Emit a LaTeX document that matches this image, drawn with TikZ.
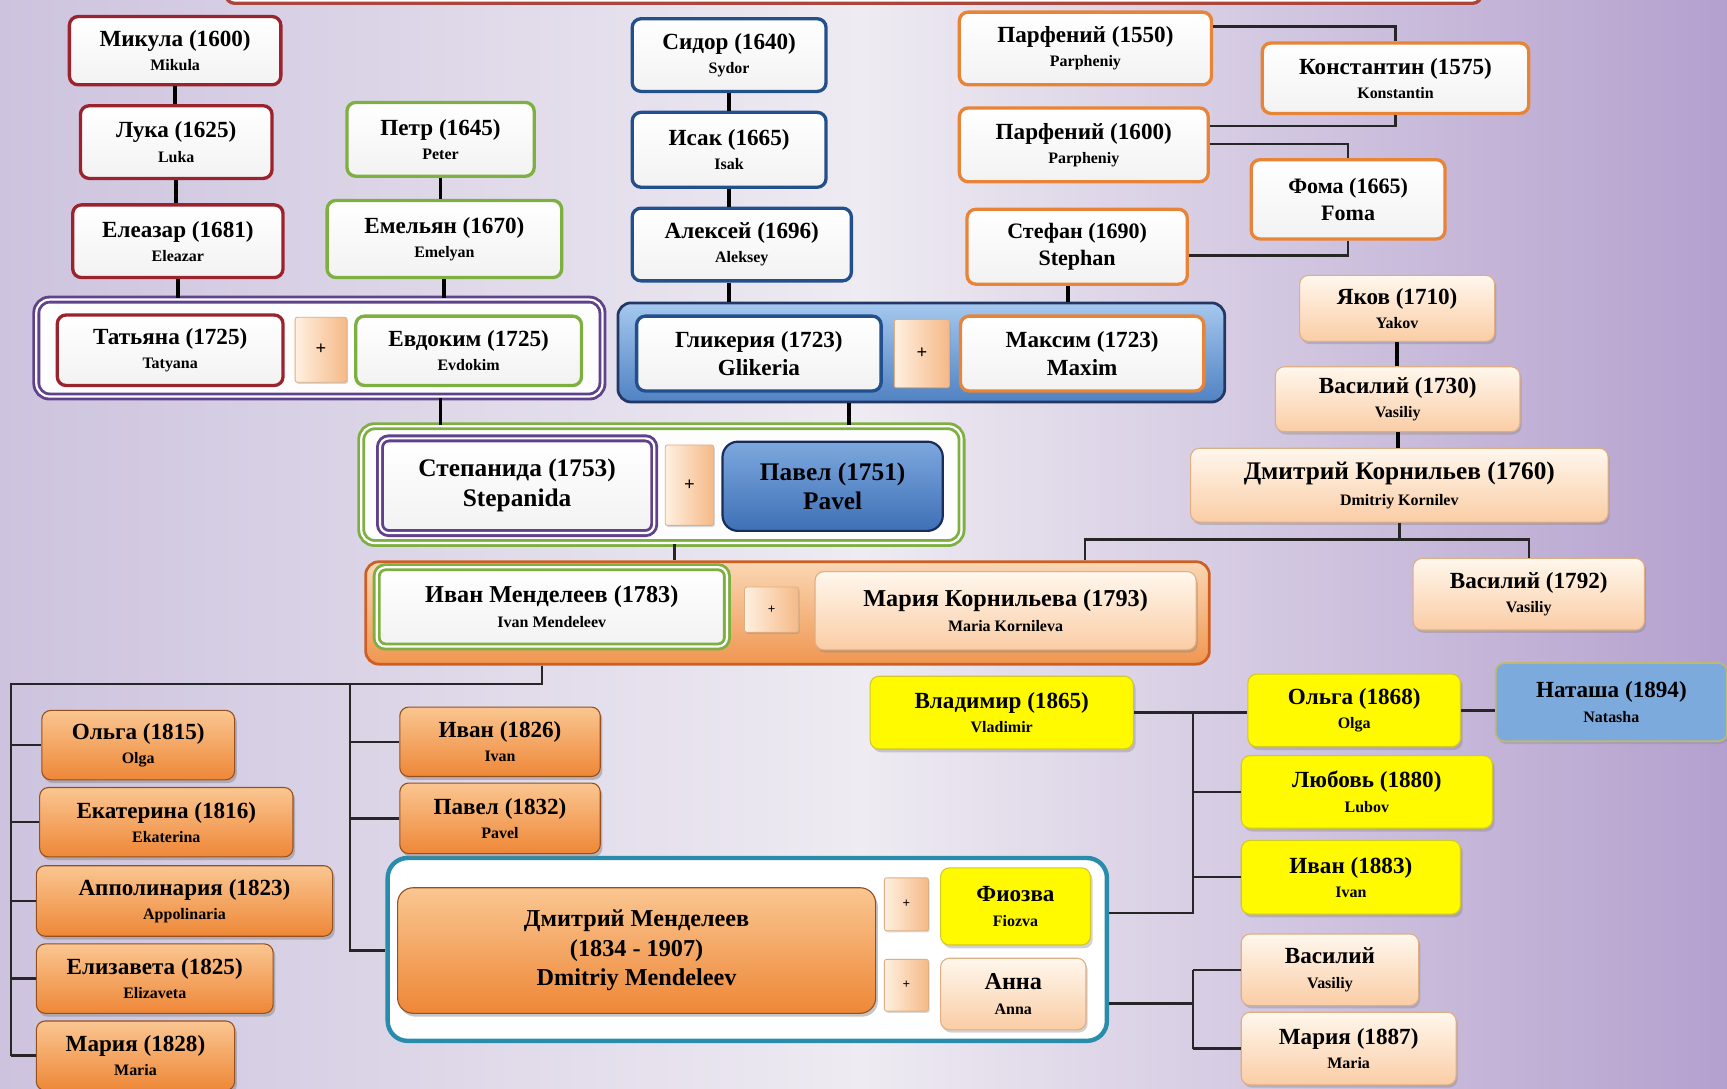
\documentclass[tikz,border=0pt]{standalone}
\usepackage{fontspec}
\setmainfont{Liberation Serif}
\usetikzlibrary{shadows,calc}
\definecolor{bgL}{RGB}{205,195,222}
\definecolor{bgM}{RGB}{238,235,242}
\definecolor{bgR}{RGB}{180,160,206}
\definecolor{cRed}{RGB}{155,35,45}
\definecolor{cGrn}{RGB}{125,175,65}
\definecolor{cBlu}{RGB}{35,80,140}
\definecolor{cOrg}{RGB}{232,132,55}
\definecolor{cPur}{RGB}{95,65,140}
\definecolor{cTeal}{RGB}{40,140,170}
\definecolor{pkT}{RGB}{255,247,237}
\definecolor{pkB}{RGB}{250,205,165}
\definecolor{pkD}{RGB}{222,175,132}
\definecolor{orT}{RGB}{250,198,145}
\definecolor{orB}{RGB}{238,135,55}
\definecolor{orD}{RGB}{150,80,30}
\definecolor{yel}{RGB}{255,250,0}
\definecolor{yelD}{RGB}{210,200,40}
\definecolor{pvT}{RGB}{125,168,222}
\definecolor{pvB}{RGB}{62,112,182}
\definecolor{pvD}{RGB}{25,45,90}
\definecolor{fbT}{RGB}{165,200,238}
\definecolor{fbB}{RGB}{80,130,195}
\definecolor{fbD}{RGB}{35,55,100}
\definecolor{fdT}{RGB}{250,215,180}
\definecolor{fdB}{RGB}{240,150,80}
\definecolor{fdD}{RGB}{205,95,35}
\definecolor{plL}{RGB}{255,240,224}
\definecolor{plR}{RGB}{245,185,135}
\definecolor{topB}{RGB}{170,70,60}
\definecolor{nataF}{RGB}{125,170,220}
\definecolor{nataD}{RGB}{190,185,110}
\newcommand\latn[1]{{\fontsize{14.5}{15}\selectfont #1}}
\tikzset{
  sz/.style 2 args={minimum width=#1pt, minimum height=#2pt},
  base/.style={rounded corners=8pt, align=center, inner sep=0pt, font=\fontsize{21}{22}\selectfont\bfseries},
  wfill/.style={top color=white, bottom color=black!5},
  redbox/.style={base, wfill, draw=cRed, line width=3pt},
  grnbox/.style={base, wfill, draw=cGrn, line width=3pt},
  blubox/.style={base, wfill, draw=cBlu, line width=3pt},
  orgbox/.style={base, wfill, draw=cOrg, line width=3pt},
  pkbox/.style={base, top color=pkT, bottom color=pkB, draw=pkD, line width=1pt,
     drop shadow={shadow xshift=1.5pt, shadow yshift=-2.5pt, opacity=0.35}},
  orch/.style={base, top color=orT, bottom color=orB, draw=orD, line width=1pt,
     drop shadow={shadow xshift=2pt, shadow yshift=-3pt, opacity=0.45}},
  yelbox/.style={base, fill=yel, draw=yelD, line width=1pt,
     drop shadow={shadow xshift=2pt, shadow yshift=-3pt, opacity=0.35}},
  plusbox/.style={base, rounded corners=2pt, left color=plL, right color=plR, draw=pkD, line width=0.8pt,
     font=\fontsize{17}{17}\selectfont\bfseries,
     drop shadow={shadow xshift=1pt, shadow yshift=-1.5pt, opacity=0.3}},
  famfill/.style={rounded corners=12pt, inner sep=0pt, fill=white!92!bgM},
  dbl/.style={double=white, double distance=2pt, line width=2.6pt},
  conn/.style={line width=3.5pt, black},
  thin/.style={line width=2.2pt, black!85},
}
\begin{document}
\begin{tikzpicture}[x=1pt,y=-1pt]
\useasboundingbox (0,0) rectangle (1568,988);
\begin{scope}
\clip (0,0) rectangle (1568,988);
\shade[left color=bgL, right color=bgR, middle color=bgM] (0,0) rectangle (1568,988);
\draw[line width=3pt, draw=topB, fill=white!94!bgM, rounded corners=8pt] (205,-30) rectangle (1345,3);
\end{scope}

% ---------- family boxes ----------
\node[famfill, draw=cPur, dbl, sz={514}{88}] (famA) at (290,316) {};
\node[famfill, draw=fbD, line width=2.5pt, top color=fbT, bottom color=fbB, sz={551}{90}] (famB) at (836.5,320) {};
\node[famfill, draw=cGrn, dbl, sz={545}{106}] (famC) at (600.5,440) {};
\node[famfill, draw=fdD, line width=2.5pt, top color=fdT, bottom color=fdB, sz={766}{93}] (famD) at (715,556.5) {};
\node[famfill, draw=cTeal, line width=4pt, fill=white, rounded corners=18pt, sz={653}{166}] (famE) at (678.5,862) {};

% ---------- red column ----------
\node[redbox, sz={192}{62}] (mik) at (159,46) {Микула (1600)\\\latn{Mikula}};
\node[redbox, sz={174}{66}] (luka) at (160,129) {Лука (1625)\\\latn{Luka}};
\node[redbox, sz={191}{66}] (elea) at (161.5,219) {Елеазар (1681)\\\latn{Eleazar}};
% ---------- green column ----------
\node[grnbox, sz={170}{67}] (petr) at (400,126.5) {Петр (1645)\\\latn{Peter}};
\node[grnbox, sz={213}{70}] (emel) at (403.5,217) {Емельян (1670)\\\latn{Emelyan}};
% ---------- family A ----------
\node[redbox, sz={205}{64}] (tat) at (154.5,318) {Татьяна (1725)\\\latn{Tatyana}};
\node[plusbox, sz={47}{59}] (plusA) at (291.5,317.5) {+};
\node[grnbox, sz={205}{63}] (evd) at (425.5,318.5) {Евдоким (1725)\\\latn{Evdokim}};
% ---------- blue column ----------
\node[blubox, sz={176}{66}] (sid) at (662,50) {Сидор (1640)\\\latn{Sydor}};
\node[blubox, sz={176}{68}] (isak) at (662,136) {Исак (1665)\\\latn{Isak}};
\node[blubox, sz={199}{66}] (alek) at (673.5,222) {Алексей (1696)\\\latn{Aleksey}};
% ---------- family B ----------
\node[blubox, sz={222}{68}, font=\fontsize{21}{25}\selectfont\bfseries] (glik) at (689,321) {Гликерия (1723)\\Glikeria};
\node[plusbox, sz={50}{62}] (plusB) at (837,321) {+};
\node[orgbox, sz={221}{68}, font=\fontsize{21}{25}\selectfont\bfseries] (maks) at (982.5,321) {Максим (1723)\\Maxim};
% ---------- orange column ----------
\node[orgbox, sz={229}{66}] (parf1) at (985.5,44) {Парфений (1550)\\\latn{Parpheniy}};
\node[orgbox, sz={242}{64}] (kons) at (1267,71) {Константин (1575)\\\latn{Konstantin}};
\node[orgbox, sz={226}{67}] (parf2) at (984,131.5) {Парфений (1600)\\\latn{Parpheniy}};
\node[orgbox, sz={176}{72}, font=\fontsize{20}{24}\selectfont\bfseries] (foma) at (1224,181) {Фома (1665)\\Foma};
\node[orgbox, sz={200}{68}, font=\fontsize{20}{24}\selectfont\bfseries] (stef) at (978,224) {Стефан (1690)\\Stephan};
% ---------- right peach column ----------
\node[pkbox, sz={177}{60}] (yak) at (1268.5,280) {Яков (1710)\\\latn{Yakov}};
\node[pkbox, sz={222}{59}] (vas1) at (1269,362.5) {Василий (1730)\\\latn{Vasiliy}};
\node[pkbox, sz={379}{67}, font=\fontsize{23}{24}\selectfont\bfseries] (dkor) at (1270.5,440.5) {Дмитрий Корнильев (1760)\\\latn{Dmitriy Kornilev}};
\node[pkbox, sz={210}{65}] (vas2) at (1388,539.5) {Василий (1792)\\\latn{Vasiliy}};
% ---------- family C ----------
\node[base, wfill, draw=cPur, dbl, sz={249}{86}, font=\fontsize{23}{27}\selectfont\bfseries] (step) at (469.5,441) {Степанида (1753)\\Stepanida};
\node[plusbox, sz={44}{73}] (plusC) at (626,440.5) {+};
\node[base, top color=pvT, bottom color=pvB, draw=pvD, line width=2pt, rounded corners=14pt, sz={200}{81}, font=\fontsize{23}{27}\selectfont\bfseries] (pav) at (756,441.5) {Павел (1751)\\Pavel};
% ---------- family D ----------
\node[base, wfill, draw=cGrn, dbl, sz={318}{72}, font=\fontsize{22}{23}\selectfont\bfseries] (ivm) at (501,551) {Иван Менделеев (1783)\\\latn{Ivan Mendeleev}};
\node[plusbox, sz={49}{41}, font=\fontsize{12}{12}\selectfont\bfseries] (plusD) at (700.5,553.5) {+};
\node[pkbox, sz={346}{71}, font=\fontsize{22}{23}\selectfont\bfseries] (mkor) at (913,554.5) {Мария Корнильева (1793)\\\latn{Maria Kornileva}};
% ---------- children of Ivan ----------
\node[orch, sz={175}{63}] (olga1) at (125.5,676.5) {Ольга (1815)\\\latn{Olga}};
\node[orch, sz={230}{63}] (ekat) at (151,746.5) {Екатерина (1816)\\\latn{Ekaterina}};
\node[orch, sz={269}{64}] (appo) at (167.5,818) {Апполинария (1823)\\\latn{Appolinaria}};
\node[orch, sz={215}{63}] (eliz) at (140.5,888.5) {Елизавета (1825)\\\latn{Elizaveta}};
\node[orch, sz={180}{63}] (mar1) at (123,958.5) {Мария (1828)\\\latn{Maria}};
\node[orch, sz={182}{63}] (ivan2) at (454,673.5) {Иван (1826)\\\latn{Ivan}};
\node[orch, sz={182}{64}] (pav2) at (454,743) {Павел (1832)\\\latn{Pavel}};
% ---------- family E ----------
\node[orch, sz={434}{114}, rounded corners=14pt, font=\fontsize{22}{27}\selectfont\bfseries] (dmen) at (578,863) {Дмитрий Менделеев\\(1834 - 1907)\\Dmitriy Mendeleev};
\node[plusbox, sz={40}{48}, font=\fontsize{12}{12}\selectfont\bfseries] (plusE1) at (823,821) {+};
\node[yelbox, sz={136}{70}] (fioz) at (922,823) {Фиозва\\\latn{Fiozva}};
\node[plusbox, sz={40}{47}, font=\fontsize{12}{12}\selectfont\bfseries] (plusE2) at (823,894.5) {+};
\node[pkbox, sz={132}{65}, font=\fontsize{22}{23}\selectfont\bfseries] (anna) at (920,902.5) {Анна\\\latn{Anna}};
% ---------- grandchildren ----------
\node[yelbox, sz={239}{66}] (vlad) at (909.5,647) {Владимир (1865)\\\latn{Vladimir}};
\node[yelbox, sz={193}{66}] (olga2) at (1229.5,645) {Ольга (1868)\\\latn{Olga}};
\node[base, fill=nataF, draw=nataD, line width=1.5pt, sz={210}{71},
  drop shadow={shadow xshift=1.5pt, shadow yshift=-2.5pt, opacity=0.3}] (nata) at (1463,637.5) {Наташа (1894)\\\latn{Natasha}};
\node[yelbox, sz={228}{66}] (lub) at (1241,719) {Любовь (1880)\\\latn{Lubov}};
\node[yelbox, sz={199}{67}] (ivan3) at (1226.5,796.5) {Иван (1883)\\\latn{Ivan}};
\node[pkbox, sz={161}{65}] (vas3) at (1207.5,880.5) {Василий\\\latn{Vasiliy}};
\node[pkbox, sz={195}{66}] (mar3) at (1224.5,952) {Мария (1887)\\\latn{Maria}};

% ---------- connectors: upper ----------
\draw[conn] (mik.south) -- (mik.south |- luka.north);
\draw[conn] (luka.south) -- (luka.south |- elea.north);
\draw[conn] (elea.south) -- (elea.south |- famA.north);
\draw[conn] (petr.south) -- (petr.south |- emel.north);
\draw[conn] (emel.south) -- (emel.south |- famA.north);
\draw[conn] (famA.south -| petr.south) -- (famC.north -| petr.south);
\draw[conn] (sid.south) -- (sid.south |- isak.north);
\draw[conn] (isak.south) -- (isak.south |- alek.north);
\draw[conn] (isak.south |- alek.south) -- (isak.south |- famB.north);
\draw[conn] ([xshift=-8pt]stef.south) -- ([xshift=-8pt]stef.south |- famB.north);
\draw[conn] ([xshift=-66pt]famB.south) -- ([xshift=-66pt]famB.south |- famC.north);
\draw[thin] ([xshift=12pt]famC.south) -- ([xshift=12pt]famC.south |- famD.north);
% orange column elbows
\draw[thin] ([yshift=20pt]parf1.east) -| (kons.north);
\draw[thin] (kons.south) |- ([yshift=17pt]parf2.east);
\draw[thin] ([yshift=1pt]parf2.east) -| (foma.north);
\draw[thin] (foma.south) |- ([yshift=-8pt]stef.east);
% right peach column
\draw[conn] (yak.south) -- (yak.south |- vas1.north);
\draw[conn] (vas1.south) -- (vas1.south |- dkor.north);
\coordinate (kL) at (985,490);
\coordinate (kR) at (vas2.north |- kL);
\draw[thin] (dkor.south) -- (dkor.south |- kL);
\draw[thin] (kL |- famD.north) -- (kL) -- (kR) -- (vas2.north);

% ---------- connectors: children of Ivan ----------
\coordinate (cb) at (492,621);
\coordinate (sp1) at (10,621);
\coordinate (sp2) at (318,621);
\draw[thin] (cb |- famD.south) -- (cb) -- (sp1) -- (sp1 |- mar1.west);
\draw[thin] (sp1 |- olga1.west) -- (olga1.west);
\draw[thin] (sp1 |- ekat.west) -- (ekat.west);
\draw[thin] (sp1 |- appo.west) -- (appo.west);
\draw[thin] (sp1 |- eliz.west) -- (eliz.west);
\draw[thin] (sp1 |- mar1.west) -- (mar1.west);
\draw[thin] (sp2) -- (sp2 |- dmen.west) -- (famE.west |- dmen.west);
\draw[thin] (sp2 |- ivan2.west) -- (ivan2.west);
\draw[thin] (sp2 |- pav2.west) -- (pav2.west);

% ---------- connectors: children of Dmitriy ----------
\coordinate (rs) at (1083,829);
\draw[thin] (famE.east |- rs) -- (rs) -- (rs |- vlad.east);
\draw[thin] (vlad.east) -- (vlad.east -| olga2.west);
\draw[thin] (rs |- lub.west) -- (lub.west);
\draw[thin] (rs |- ivan3.west) -- (ivan3.west);
\draw[thin] (olga2.east) -- (olga2.east -| nata.west);
\coordinate (as) at (1083,911);
\draw[thin] (famE.east |- as) -- (as);
\draw[thin] (vas3.west -| as) -- (mar3.west -| as);
\draw[thin] (vas3.west -| as) -- (vas3.west);
\draw[thin] (mar3.west -| as) -- (mar3.west);
\end{tikzpicture}
\end{document}
